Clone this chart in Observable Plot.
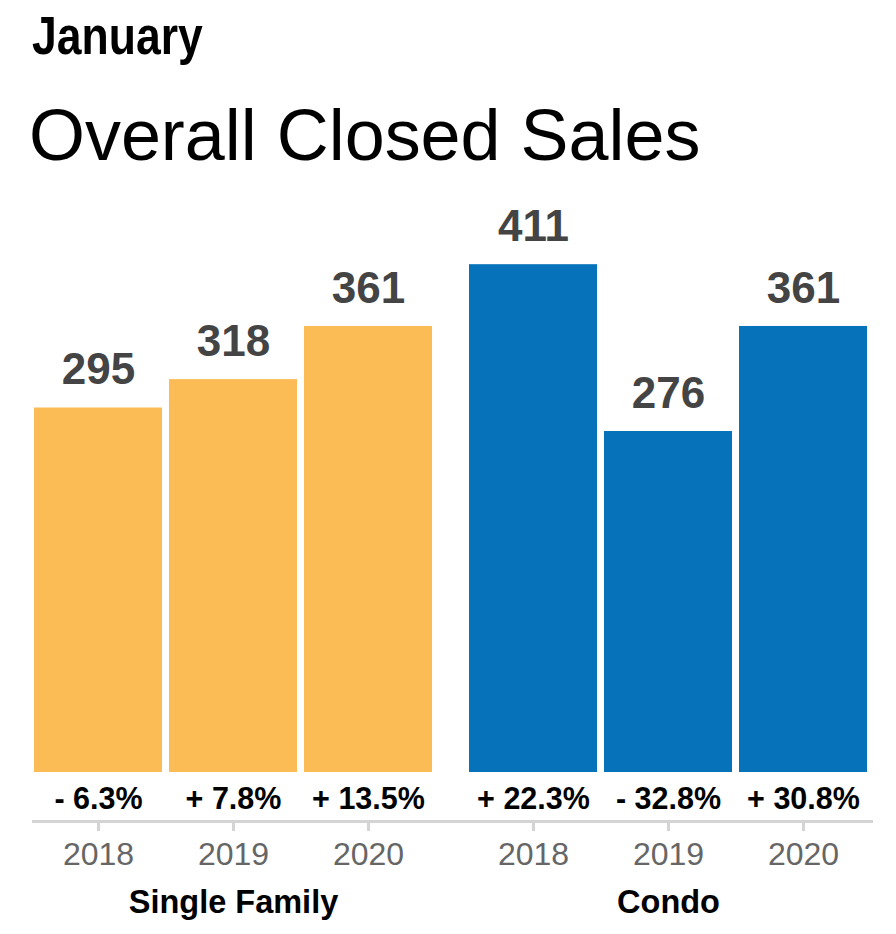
<!DOCTYPE html>
<html>
<head>
<meta charset="utf-8">
<script src="https://cdn.jsdelivr.net/npm/d3@7"></script>
<script src="https://cdn.jsdelivr.net/npm/@observablehq/plot@0.6"></script>
<style>
  body { margin: 0; background: #fff; font-family: "Liberation Sans", Arial, sans-serif; }
  #wrap { width: 896px; height: 934px; position: relative; overflow: hidden; }
  #head { position: relative; height: 190px; }
  #month { position: absolute; left: 32px; top: 9px; font: bold 53px/1 "Liberation Sans", Arial, sans-serif; color: #000; transform: scaleX(0.84); transform-origin: left top; white-space: nowrap; }
  #title { position: absolute; left: 29px; top: 98px; font: 73px/1 "Liberation Sans", Arial, sans-serif; color: #000; white-space: nowrap; transform: scaleX(0.985); transform-origin: left top; }
  #chart svg { display: block; }
</style>
</head>
<body>
<div id="wrap">
  <div id="head">
    <div id="month">January</div>
    <div id="title">Overall Closed Sales</div>
  </div>
  <div id="chart"></div>
</div>
<script>
const groups = ["Single Family", "Condo"];
const years = ["2018", "2019", "2020"];
const singleFamily = [295, 318, 361];
const condo = [411, 276, 361];
const singleFamilyChange = [-6.3, 7.8, 13.5];
const condoChange = [22.3, -32.8, 30.8];
const groupColors = ["#FBBB55", "#0672BA"];

const rows = [];
years.forEach((y, i) => rows.push({group: groups[0], year: y, value: singleFamily[i], change: singleFamilyChange[i]}));
years.forEach((y, i) => rows.push({group: groups[1], year: y, value: condo[i], change: condoChange[i]}));

const fmtChange = d => (d < 0 ? "- " : "+ ") + Math.abs(d).toFixed(1) + "%";

const chart = Plot.plot({
  width: 896,
  height: 744,
  marginTop: 26,
  marginBottom: 113,
  marginLeft: 34,
  marginRight: 28,
  style: {fontFamily: "'Liberation Sans', Arial, sans-serif", background: "#fff", overflow: "visible"},
  fx: {domain: groups, paddingInner: 0.085, paddingOuter: 0, axis: null, label: null},
  x: {domain: years, paddingInner: 0.0519, paddingOuter: 0, label: null},
  y: {domain: [0, 450], insetBottom: 49, axis: null},
  color: {domain: groups, range: groupColors},
  marks: [
    Plot.barY(rows, {fx: "group", x: "year", y: "value", fill: "group"}),
    Plot.text(rows, {fx: "group", x: "year", y: "value", text: d => String(d.value), dy: -38, fontSize: 44, fontWeight: "bold", fill: "#444"}),
    Plot.text(rows, {fx: "group", x: "year", frameAnchor: "bottom", dy: -13, text: d => fmtChange(d.change), fontSize: 30.5, fontWeight: "bold", fill: "#000"}),
    Plot.ruleY([{group: groups[0]}], {fx: "group", y: () => 0, dy: 49, stroke: "#d4d4d4", strokeWidth: 3, insetLeft: -2, insetRight: -19}),
    Plot.ruleY([{group: groups[1]}], {fx: "group", y: () => 0, dy: 49, stroke: "#d4d4d4", strokeWidth: 3, insetLeft: -19, insetRight: -6}),
    Plot.axisX({tickSize: 10, tickPadding: 11, fontSize: 32, fill: "#666", stroke: "#d4d4d4", strokeWidth: 3, strokeOpacity: 1, label: null}),
    Plot.text(groups, {fx: d => d, frameAnchor: "bottom", dy: 91, text: d => d, fontSize: 32.5, fontWeight: "bold", fill: "#000"})
  ]
});
document.getElementById("chart").appendChild(chart);
</script>
</body>
</html>
